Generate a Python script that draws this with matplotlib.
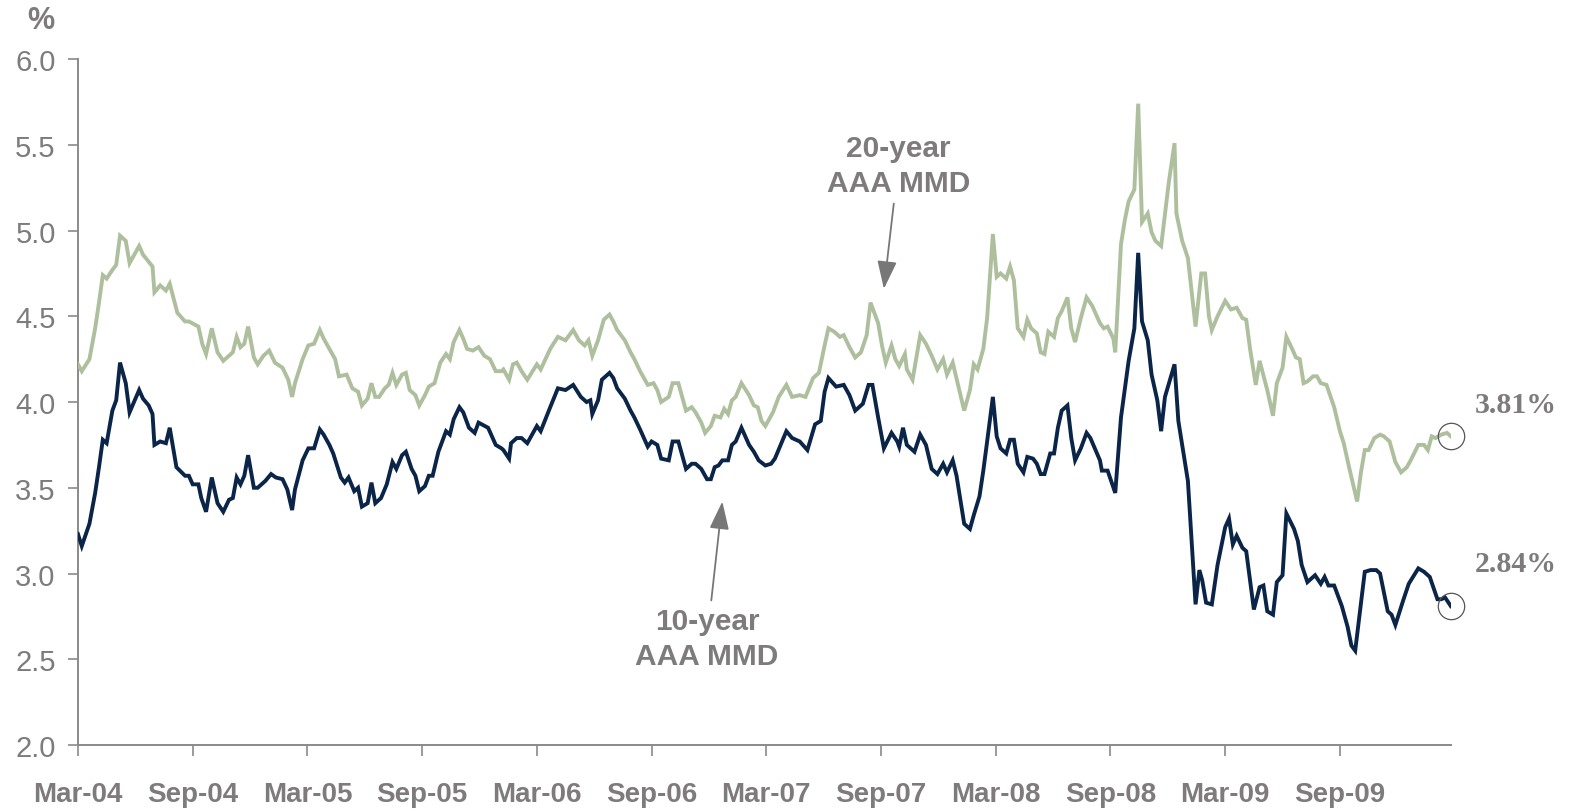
import matplotlib
matplotlib.use("Agg")
import matplotlib.pyplot as plt

# months since Mar-2004 and yields (%)
T20 = [0.0, 0.2, 0.6, 0.9, 1.1, 1.3, 1.5, 1.8, 2.0, 2.2, 2.5, 2.7, 3.2, 3.4, 3.9, 4.0, 4.3, 4.6, 4.8, 5.2,
       5.6, 5.8, 6.3, 6.5, 6.7, 7.0, 7.3, 7.6, 8.1, 8.3, 8.5, 8.7, 8.9, 9.2, 9.4, 9.7, 10.0, 10.3, 10.7, 11.0,
       11.2, 11.35, 11.75, 12.05, 12.35, 12.65, 12.85, 13.15, 13.45, 13.65, 14.05, 14.35, 14.65, 14.85, 15.15,
       15.35, 15.55, 15.75, 16.05, 16.25, 16.45, 16.65, 16.95, 17.15, 17.35, 17.65, 17.85, 18.15, 18.35, 18.65,
       18.95, 19.25, 19.45, 19.65, 19.95, 20.15, 20.35, 20.65, 20.95, 21.25, 21.55, 21.85, 22.15, 22.25, 22.55,
       22.75, 22.95, 23.2, 23.5, 24.0, 24.2, 24.7, 25.1, 25.5, 25.9, 26.2, 26.5, 26.7, 26.9, 27.2, 27.5, 27.8,
       28.0, 28.2, 28.6, 28.9, 29.1, 29.4, 29.8, 30.1, 30.3, 30.5, 30.9, 31.1, 31.4, 31.8, 32.1, 32.3, 32.6,
       32.8, 33.1, 33.3, 33.6, 33.8, 34.0, 34.2, 34.4, 34.7, 35.1, 35.35, 35.55, 35.75, 35.95, 36.35, 36.65,
       37.05, 37.35, 37.75, 38.05, 38.45, 38.75, 39.05, 39.25, 39.55, 39.85, 40.05, 40.35, 40.65, 40.95, 41.25,
       41.45, 41.85, 42.05, 42.25, 42.55, 42.75, 42.95, 43.25, 43.35, 43.65, 44.05, 44.35, 44.65, 44.95, 45.25,
       45.45, 45.75, 46.05, 46.35, 46.65, 46.85, 47.05, 47.35, 47.55, 47.85, 48.05, 48.25, 48.55, 48.75, 48.95,
       49.15, 49.45, 49.65, 49.85, 50.15, 50.35, 50.55, 50.75, 51.05, 51.25, 51.45, 51.75, 51.95, 52.15, 52.45,
       52.75, 53.05, 53.45, 53.65, 53.85, 54.15, 54.25, 54.55, 54.75, 54.95, 55.25, 55.45, 55.65, 55.95, 56.15,
       56.35, 56.65, 57.05, 57.35, 57.45, 57.75, 58.05, 58.45, 58.75, 58.95, 59.15, 59.3, 59.6, 60.0, 60.3,
       60.6, 60.9, 61.1, 61.3, 61.6, 61.8, 62.2, 62.5, 62.7, 63.0, 63.2, 63.5, 63.7, 63.9, 64.1, 64.3, 64.6,
       64.8, 65.0, 65.3, 65.7, 66.0, 66.2, 66.5, 66.9, 67.1, 67.3, 67.5, 67.8, 68.1, 68.3, 68.6, 68.9, 69.2,
       69.5, 69.7, 70.1, 70.4, 70.6, 70.8, 71.0, 71.3, 71.6, 71.8]
Y20 = [4.22, 4.18, 4.25, 4.43, 4.58, 4.74, 4.72, 4.77, 4.80, 4.97, 4.94, 4.81, 4.91, 4.86, 4.79, 4.64, 4.68, 4.65,
       4.69, 4.52, 4.47, 4.47, 4.44, 4.34, 4.28, 4.43, 4.29, 4.24, 4.29, 4.38, 4.32, 4.34, 4.44, 4.26, 4.22, 4.27,
       4.30, 4.23, 4.20, 4.13, 4.03, 4.11, 4.25, 4.33, 4.34, 4.42, 4.37, 4.31, 4.25, 4.15, 4.16, 4.08, 4.06, 3.98,
       4.02, 4.11, 4.03, 4.03, 4.08, 4.10, 4.17, 4.10, 4.16, 4.17, 4.07, 4.04, 3.98, 4.04, 4.09, 4.11, 4.23, 4.28,
       4.25, 4.35, 4.42, 4.37, 4.31, 4.30, 4.32, 4.27, 4.25, 4.18, 4.18, 4.19, 4.13, 4.22, 4.23, 4.18, 4.13, 4.22,
       4.19, 4.31, 4.38, 4.36, 4.42, 4.36, 4.33, 4.36, 4.27, 4.36, 4.48, 4.51, 4.47, 4.42, 4.36, 4.29, 4.25, 4.18,
       4.10, 4.11, 4.07, 4.00, 4.03, 4.11, 4.11, 3.95, 3.97, 3.94, 3.88, 3.82, 3.86, 3.92, 3.91, 3.96, 3.93, 4.01,
       4.03, 4.11, 4.04, 3.98, 3.97, 3.89, 3.86, 3.94, 4.03, 4.10, 4.03, 4.04, 4.03, 4.14, 4.17, 4.33, 4.43, 4.41,
       4.38, 4.39, 4.32, 4.26, 4.29, 4.39, 4.58, 4.46, 4.33, 4.23, 4.33, 4.25, 4.21, 4.28, 4.19, 4.13, 4.39, 4.34,
       4.27, 4.19, 4.25, 4.16, 4.23, 4.09, 3.95, 4.07, 4.22, 4.19, 4.31, 4.49, 4.98, 4.73, 4.75, 4.72, 4.79, 4.71,
       4.43, 4.38, 4.48, 4.43, 4.40, 4.29, 4.28, 4.41, 4.38, 4.49, 4.53, 4.61, 4.43, 4.35, 4.49, 4.61, 4.56, 4.46,
       4.43, 4.44, 4.37, 4.29, 4.92, 5.06, 5.17, 5.24, 5.74, 5.05, 5.10, 4.99, 4.94, 4.91, 5.28, 5.51, 5.10, 4.94,
       4.84, 4.44, 4.75, 4.75, 4.50, 4.42, 4.50, 4.59, 4.54, 4.55, 4.49, 4.48, 4.31, 4.10, 4.24, 4.07, 3.92, 4.11,
       4.20, 4.38, 4.31, 4.26, 4.25, 4.11, 4.12, 4.15, 4.15, 4.11, 4.10, 3.97, 3.83, 3.76, 3.61, 3.42, 3.59, 3.72,
       3.72, 3.79, 3.81, 3.80, 3.77, 3.65, 3.59, 3.62, 3.66, 3.75, 3.75, 3.72, 3.80, 3.79, 3.81, 3.82, 3.80]

T10 = [0.0, 0.2, 0.6, 0.9, 1.1, 1.3, 1.5, 1.8, 2.0, 2.2, 2.5, 2.7, 3.2, 3.4, 3.7, 3.9, 4.0, 4.3, 4.6, 4.8, 5.15,
       5.6, 5.8, 6.0, 6.3, 6.45, 6.7, 7.0, 7.3, 7.6, 7.9, 8.1, 8.3, 8.5, 8.7, 8.9, 9.2, 9.4, 9.8, 10.1, 10.35,
       10.7, 10.95, 11.2, 11.35, 11.75, 12.05, 12.35, 12.65, 12.85, 13.15, 13.35, 13.75, 13.95, 14.15, 14.45,
       14.65, 14.85, 15.15, 15.35, 15.55, 15.85, 16.15, 16.45, 16.65, 16.95, 17.15, 17.45, 17.65, 17.85, 18.15,
       18.35, 18.55, 18.85, 19.25, 19.45, 19.65, 19.95, 20.15, 20.45, 20.75, 20.95, 21.45, 21.85, 22.15, 22.25,
       22.55, 22.65, 22.95, 23.2, 23.5, 24.0, 24.2, 24.7, 25.1, 25.5, 25.9, 26.3, 26.6, 26.8, 26.9, 27.2, 27.4,
       27.8, 28.0, 28.2, 28.6, 28.9, 29.1, 29.4, 29.8, 30.0, 30.3, 30.5, 30.9, 31.1, 31.4, 31.8, 32.1, 32.3,
       32.6, 32.9, 33.1, 33.3, 33.5, 33.7, 34.0, 34.2, 34.4, 34.7, 35.1, 35.35, 35.6, 35.95, 36.25, 36.45, 36.75,
       37.05, 37.35, 37.75, 38.15, 38.55, 38.85, 39.05, 39.25, 39.65, 40.05, 40.35, 40.65, 41.05, 41.35, 41.55,
       41.85, 42.15, 42.55, 42.85, 42.95, 43.15, 43.35, 43.75, 44.05, 44.35, 44.65, 44.95, 45.25, 45.45, 45.75,
       45.95, 46.35, 46.65, 46.85, 47.15, 47.35, 47.55, 47.85, 48.05, 48.25, 48.55, 48.75, 48.95, 49.15, 49.45,
       49.65, 49.95, 50.15, 50.35, 50.55, 50.85, 51.05, 51.25, 51.45, 51.75, 51.95, 52.15, 52.45, 52.75, 52.95,
       53.45, 53.55, 53.85, 54.25, 54.55, 54.95, 55.25, 55.45, 55.65, 55.95, 56.15, 56.45, 56.65, 56.85, 57.35,
       57.55, 58.05, 58.45, 58.65, 58.8, 59.0, 59.3, 59.6, 60.0, 60.2, 60.4, 60.6, 60.9, 61.1, 61.5, 61.8, 62.0,
       62.2, 62.5, 62.7, 63.0, 63.2, 63.6, 63.8, 64.0, 64.3, 64.7, 65.0, 65.2, 65.4, 65.7, 66.1, 66.4, 66.6,
       66.8, 67.3, 67.6, 67.9, 68.1, 68.5, 68.7, 68.9, 69.3, 69.6, 70.1, 70.4, 70.7, 71.1, 71.3, 71.5, 71.8]
Y10 = [3.23, 3.16, 3.29, 3.47, 3.62, 3.78, 3.76, 3.95, 4.01, 4.23, 4.11, 3.94, 4.07, 4.02, 3.98, 3.93, 3.75, 3.77,
       3.76, 3.85, 3.62, 3.57, 3.57, 3.52, 3.52, 3.44, 3.36, 3.56, 3.41, 3.36, 3.43, 3.44, 3.56, 3.52, 3.57, 3.69,
       3.50, 3.50, 3.54, 3.58, 3.56, 3.55, 3.49, 3.37, 3.49, 3.66, 3.73, 3.73, 3.84, 3.81, 3.75, 3.70, 3.56, 3.53,
       3.56, 3.48, 3.50, 3.39, 3.41, 3.53, 3.41, 3.44, 3.52, 3.65, 3.61, 3.69, 3.71, 3.61, 3.57, 3.48, 3.51, 3.57,
       3.57, 3.71, 3.83, 3.81, 3.90, 3.97, 3.94, 3.85, 3.82, 3.88, 3.85, 3.75, 3.73, 3.72, 3.67, 3.76, 3.79, 3.79,
       3.76, 3.86, 3.83, 3.97, 4.08, 4.07, 4.10, 4.03, 4.00, 4.01, 3.93, 4.01, 4.13, 4.17, 4.14, 4.08, 4.02, 3.95,
       3.91, 3.84, 3.74, 3.77, 3.75, 3.67, 3.66, 3.77, 3.77, 3.61, 3.64, 3.64, 3.61, 3.55, 3.55, 3.62, 3.63, 3.66,
       3.66, 3.75, 3.77, 3.85, 3.75, 3.71, 3.66, 3.63, 3.64, 3.67, 3.75, 3.83, 3.79, 3.77, 3.72, 3.87, 3.89, 4.06,
       4.14, 4.09, 4.10, 4.04, 3.95, 3.99, 4.10, 4.10, 3.91, 3.73, 3.82, 3.77, 3.74, 3.85, 3.75, 3.71, 3.81, 3.75,
       3.61, 3.58, 3.64, 3.59, 3.66, 3.57, 3.29, 3.26, 3.34, 3.45, 3.60, 3.77, 4.03, 3.80, 3.73, 3.70, 3.78, 3.78,
       3.64, 3.59, 3.68, 3.67, 3.64, 3.58, 3.58, 3.70, 3.70, 3.85, 3.95, 3.98, 3.79, 3.66, 3.73, 3.82, 3.79, 3.66,
       3.60, 3.60, 3.47, 3.91, 4.24, 4.43, 4.87, 4.47, 4.36, 4.16, 4.01, 3.83, 4.03, 4.22, 3.89, 3.54, 2.82, 3.02,
       2.96, 2.83, 2.82, 3.05, 3.27, 3.32, 3.17, 3.22, 3.15, 3.13, 2.79, 2.92, 2.93, 2.78, 2.76, 2.95, 2.99, 3.35,
       3.26, 3.19, 3.05, 2.95, 2.99, 2.94, 2.98, 2.93, 2.93, 2.81, 2.69, 2.58, 2.55, 3.01, 3.02, 3.02, 3.00, 2.78,
       2.76, 2.70, 2.84, 2.94, 3.03, 3.01, 2.98, 2.85, 2.85, 2.86, 2.81]

TICK_POS = [0, 6, 12, 18, 24, 30, 36, 42, 48, 54, 60, 66]
TICK_LABELS = ['Mar-04', 'Sep-04', 'Mar-05', 'Sep-05', 'Mar-06', 'Sep-06', 'Mar-07', 'Sep-07',
               'Mar-08', 'Sep-08', 'Mar-09', 'Sep-09']
Y_TICKS = [2.0, 2.5, 3.0, 3.5, 4.0, 4.5, 5.0, 5.5, 6.0]
END_LABELS = ['3.81%', '2.84%']

GREEN = '#aebf9e'
NAVY = '#0b2548'
GREY = '#7f7b7d'
AXIS_GREY = '#8a8a8a'

plt.rcParams['font.family'] = ['Liberation Sans', 'DejaVu Sans']

fig = plt.figure(figsize=(15.78, 8.12), dpi=100)
ax = fig.add_axes([0.0494, 0.0813, 0.8700, 0.8447])

ax.plot(T20, Y20, color=GREEN, lw=2.8, solid_joinstyle='miter', zorder=3)
ax.plot(T10, Y10, color=NAVY, lw=2.8, solid_joinstyle='miter', zorder=4)

ax.set_xlim(0, T20[-1])
ax.set_ylim(2.0, 6.0)
ax.set_yticks(Y_TICKS)
ax.set_yticklabels(['%.1f' % v for v in Y_TICKS])
ax.set_xticks(TICK_POS)
ax.set_xticklabels(TICK_LABELS, fontweight='bold',
                   family=['Liberation Sans Narrow', 'Liberation Sans', 'DejaVu Sans'], fontsize=20)

for s in ['top', 'right']:
    ax.spines[s].set_visible(False)
for s in ['left', 'bottom']:
    ax.spines[s].set_color(AXIS_GREY)
    ax.spines[s].set_linewidth(1.4)

ax.tick_params(axis='y', direction='out', length=7, width=1.2, color=AXIS_GREY,
               labelsize=21, labelcolor=GREY, pad=9)
ax.tick_params(axis='x', direction='out', length=8, width=1.2, color=AXIS_GREY,
               labelcolor=GREY, pad=18)

fig.text(0.017, 0.974, '%', fontsize=22, fontweight='bold', color=GREY, ha='left', va='center')

# end-point circles and labels
for t, y, lab, dy in [(T20[-1], Y20[-1], END_LABELS[0], 23), (T10[-1], Y10[-1], END_LABELS[1], 31)]:
    ax.plot([t], [y], marker='o', ms=19, mfc='none', mec='#555555', mew=0.9, clip_on=False, zorder=5)
    ax.annotate(lab, xy=(t, y), xytext=(47, dy), textcoords='offset points',
                ha='center', va='center', fontsize=21.5, fontweight='bold', color=GREY,
                family=['Liberation Serif', 'DejaVu Serif'], annotation_clip=False)

arrow = dict(arrowstyle='-|>,head_length=0.8,head_width=0.28', color='#777777', lw=1.3,
             shrinkA=3, shrinkB=0)
ax.annotate('20-year\nAAA MMD', xy=(42.15, 4.66), xytext=(42.9, 5.38), textcoords='data',
            ha='center', va='center', fontsize=21.5, fontweight='bold', color=GREY,
            linespacing=1.3, arrowprops=arrow)
ax.annotate('10-year\nAAA MMD', xy=(33.7, 3.42), xytext=(32.9, 2.62), textcoords='data',
            ha='center', va='center', fontsize=21.5, fontweight='bold', color=GREY,
            linespacing=1.3, arrowprops=arrow)

fig.savefig('out.png', dpi=100)
